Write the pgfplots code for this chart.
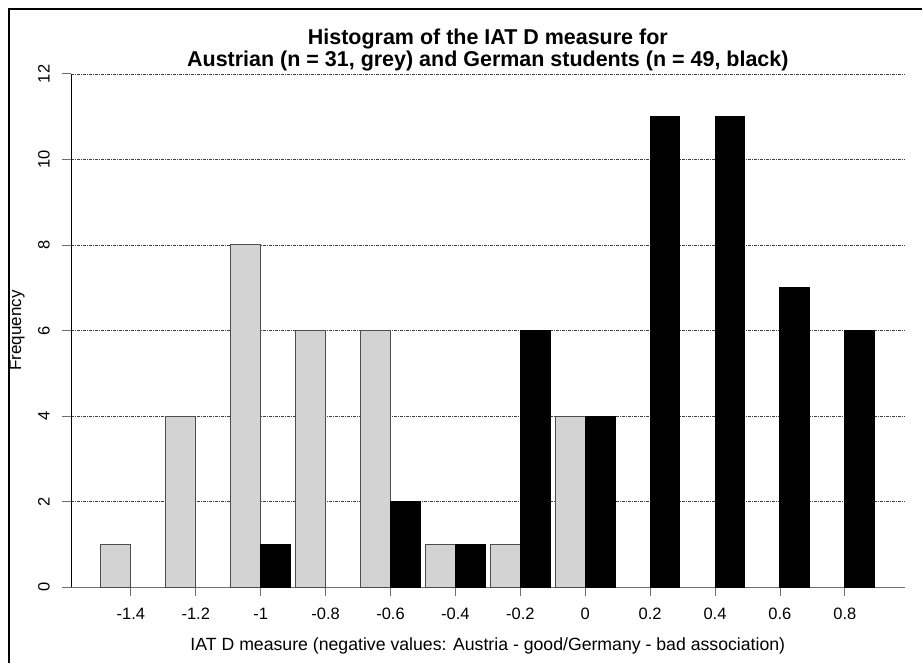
\documentclass[border=0pt]{standalone}
\usepackage{fontspec}
\setmainfont{Liberation Sans}
\usepackage{pgfplots}
\pgfplotsset{compat=1.18}
\definecolor{barlight}{HTML}{D3D3D3}
\definecolor{baredge}{HTML}{4D4D4D}
\definecolor{axgray}{HTML}{6E6E6E}
\newcommand\yt{\fontsize{16.5}{18}\selectfont}
\begin{document}
\begin{tikzpicture}[x=1pt,y=1pt]
\path (0,0) rectangle (923,664);
\draw[line width=2.5pt] (9,0) -- (9,655) -- (923,655);
\begin{axis}[
  at={(71pt,76pt)}, anchor=south west,
  scale only axis, width=835pt, height=514pt,
  xmin=-1.5846, xmax=0.9846, ymin=0, ymax=12,
  axis x line=bottom, axis y line=left,
  x axis line style={-, axgray, line width=1pt},
  y axis line style={-, black, line width=0.8pt},
  tick align=outside,
  major tick length=9pt,
  xtick={-1.4,-1.2,-1,-0.8,-0.6,-0.4,-0.2,0,0.2,0.4,0.6,0.8},
  xticklabels={-1.4,-1.2,-1,-0.8,-0.6,-0.4,-0.2,0,0.2,0.4,0.6,0.8},
  ytick={0,2,4,6,8,10,12},
  yticklabels={\yt 0,\yt 2,\yt 4,\yt 6,\yt 8,\yt 10,\yt 12},
  every tick/.style={axgray, line width=0.9pt},
  xticklabel style={font=\fontsize{16.5}{18}\selectfont, anchor=north, inner sep=0pt, yshift=-12pt},
  yticklabel style={xshift=-12pt, rotate=90, anchor=south, inner sep=0pt},
  ymajorgrids,
  major grid style={black!75, line width=0.6pt, dash pattern=on 3pt off 1pt on 1pt off 1pt},
  every axis x label/.style={at={(axis description cs:0.5,0)}, anchor=center, yshift=-59pt},
  every axis y label/.style={at={(axis description cs:0,0.5)}, xshift=-54pt, rotate=90, anchor=center},
  xlabel={\fontsize{17.7}{19}\selectfont IAT D measure (negative values: Austria - good/Germany - bad association)},
  ylabel={\fontsize{17}{19}\selectfont Frequency},
  title style={at={(axis description cs:0.5,1)}, anchor=south, inner sep=0pt, yshift=-3pt, align=center, font=\bfseries\fontsize{21.5}{22}\selectfont},
  title={Histogram of the IAT D measure for\\Austrian (n = 31, grey) and German students (n = 49, black)},
  clip=false,
]
\addplot[ybar, bar width=0.092, bar shift=-0.046, fill=barlight, draw=baredge, line width=1pt] coordinates {
(-1.4,1) (-1.2,4) (-1.0,8) (-0.8,6) (-0.6,6) (-0.4,1) (-0.2,1) (0,4)
};
\addplot[ybar, bar width=0.092, bar shift=0.046, fill=black, draw=black, line width=1pt] coordinates {
(-1.0,1) (-0.6,2) (-0.4,1) (-0.2,6) (0,4) (0.2,11) (0.4,11) (0.6,7) (0.8,6)
};
\end{axis}
\end{tikzpicture}
\end{document}
